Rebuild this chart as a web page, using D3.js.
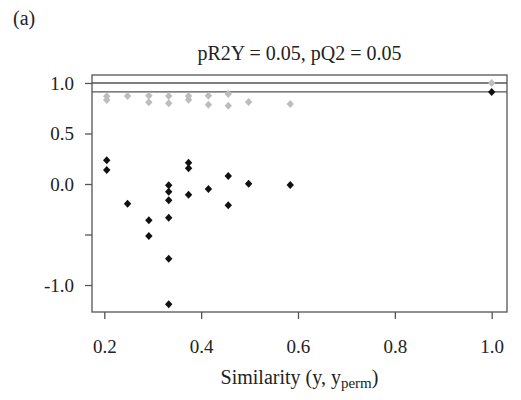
<!DOCTYPE html>
<html>
<head>
<meta charset="utf-8">
<script src="https://cdn.jsdelivr.net/npm/d3@7"></script>
<style>
  html, body { margin: 0; padding: 0; background: #fff; }
  svg { display: block; }
  text { font-family: "Liberation Serif", "Times New Roman", serif; fill: #222; }
</style>
</head>
<body>
<svg id="chart" width="521" height="400"></svg>
<script>
// ---- data ----
const panelLabel = "(a)";
const titleText = "pR2Y = 0.05, pQ2 = 0.05";
const xTicks = [0.2, 0.4, 0.6, 0.8, 1.0];
const yTicks = [1.0, 0.5, 0.0, -0.5, -1.0];
const yTickLabels = ["1.0", "0.5", "0.0", "", "-1.0"];

// R2Y (grey) permutation points
const r2ySim = [0.205, 0.205, 0.248, 0.292, 0.292, 0.333, 0.333, 0.374, 0.374, 0.415, 0.415, 0.456, 0.456, 0.498, 0.584, 1.0];
const r2yVal = [0.868, 0.832, 0.871, 0.874, 0.809, 0.871, 0.799, 0.870, 0.834, 0.874, 0.785, 0.891, 0.775, 0.812, 0.792, 1.0];
// Q2 (black) permutation points
const q2Sim = [0.205, 0.205, 0.248, 0.292, 0.292, 0.333, 0.333, 0.333, 0.333, 0.333, 0.333, 0.374, 0.374, 0.374, 0.415, 0.456, 0.456, 0.498, 0.584, 1.0];
const q2Val = [0.234, 0.139, -0.195, -0.36, -0.515, -0.013, -0.076, -0.162, -0.334, -0.74, -1.19, 0.21, 0.155, -0.106, -0.05, 0.079, -0.211, 0.003, -0.01, 0.911];
// original model values (horizontal reference lines)
const refLines = [1.0, 0.911];

// ---- layout ----
const svg = d3.select("#chart");
const L = 92, R = 507, T = 75, B = 312;
const FS = 19;
const x = d3.scaleLinear().domain([0.1746, 1.0316]).range([L, R]);
const y = d3.scaleLinear().domain([-1.267, 1.079]).range([B, T]);

const lineColor = "#555";

// panel label
svg.append("text").attr("x", 13).attr("y", 25).attr("font-size", 20).text(panelLabel);

// title
svg.append("text").attr("x", (L + R) / 2).attr("y", 60)
  .attr("text-anchor", "middle").attr("font-size", 20).text(titleText);

// reference lines
svg.append("g").selectAll("line").data(refLines).join("line")
  .attr("x1", L).attr("x2", R)
  .attr("y1", d => y(d)).attr("y2", d => y(d))
  .attr("stroke", lineColor).attr("stroke-width", 1.3);

// frame
svg.append("rect").attr("x", L).attr("y", T).attr("width", R - L).attr("height", B - T)
  .attr("fill", "none").attr("stroke", lineColor).attr("stroke-width", 1.3);

// y axis
const yAxis = svg.append("g").attr("transform", `translate(${L},0)`)
  .call(d3.axisLeft(y).tickValues(yTicks).tickSize(7).tickPadding(11)
    .tickFormat((d, i) => yTickLabels[i]));
yAxis.select(".domain").remove();
yAxis.selectAll("line").attr("stroke", lineColor).attr("stroke-width", 1.3);
yAxis.selectAll("text").attr("font-size", FS).attr("fill", "#222")
  .attr("font-family", '"Liberation Serif", serif');

// x axis
const xAxis = svg.append("g").attr("transform", `translate(0,${B})`)
  .call(d3.axisBottom(x).tickValues(xTicks).tickSize(7).tickPadding(21)
    .tickFormat(d3.format(".1f")));
xAxis.select(".domain").remove();
xAxis.selectAll("line").attr("stroke", lineColor).attr("stroke-width", 1.3);
xAxis.selectAll("text").attr("font-size", FS).attr("fill", "#222")
  .attr("font-family", '"Liberation Serif", serif');

// x label
const xl = svg.append("text").attr("x", (L + R) / 2).attr("y", 384)
  .attr("text-anchor", "middle").attr("font-size", 20);
xl.append("tspan").text("Similarity (y, y");
xl.append("tspan").attr("font-size", 15).attr("dy", 4).text("perm");
xl.append("tspan").attr("dy", -4).text(")");

// diamond marker
const diamond = "M0,-4L3.7,0L0,4L-3.7,0Z";

svg.append("g").selectAll("path").data(d3.range(r2ySim.length)).join("path")
  .attr("d", diamond)
  .attr("transform", i => `translate(${x(r2ySim[i])},${y(r2yVal[i])})`)
  .attr("fill", "#bdbdbd");

svg.append("g").selectAll("path").data(d3.range(q2Sim.length)).join("path")
  .attr("d", diamond)
  .attr("transform", i => `translate(${x(q2Sim[i])},${y(q2Val[i])})`)
  .attr("fill", "#111");
</script>
</body>
</html>
